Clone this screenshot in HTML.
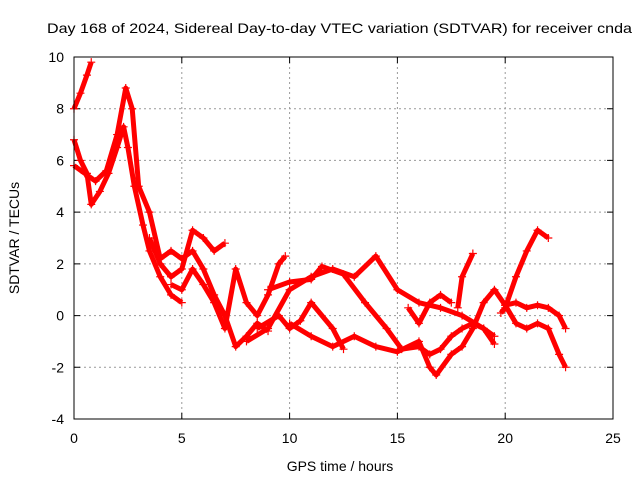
<!DOCTYPE html>
<html><head><meta charset="utf-8"><style>
body{margin:0;background:#fff}
svg{font-family:"Liberation Sans",sans-serif;font-size:14px}
</style></head><body>
<svg id="c" width="640" height="480">
<text x="47" y="33" textLength="585" lengthAdjust="spacingAndGlyphs">Day 168 of 2024, Sidereal Day-to-day VTEC variation (SDTVAR) for receiver cnda</text>
<text x="340" y="471" text-anchor="middle">GPS time / hours</text>
<text transform="translate(19,238) rotate(-90)" text-anchor="middle">SDTVAR / TECUs</text>
<g id="grid"></g><g id="marks"></g>
<rect x="74" y="57" width="539" height="362" fill="none" stroke="#000"/>
</svg>
<script>
const xTicks=[0,5,10,15,20,25];
const yTicks=[-4,-2,0,2,4,6,8,10];
const s1=[[0,8],[0.3,8.6],[0.6,9.3],[0.8,9.8]];
const s2=[[0,6.8],[0.3,6],[0.6,5.5],[0.8,4.3],[1.2,4.8],[1.6,5.5],[2,6.5],[2.3,7.3],[2.5,6.5],[2.8,5],[3.2,3.5],[3.5,2.5],[4,1.5],[4.5,0.8],[5,0.5]];
const s3=[[0,5.8],[0.5,5.5],[1,5.2],[1.5,5.6],[2,7],[2.4,8.8],[2.7,8],[3,5],[3.5,4],[4,2.2],[4.5,2.5],[5,2.2],[5.5,2.5],[6,1.8],[6.5,0.8],[7,0],[7.5,-1.2],[8,-0.8],[8.5,-0.3],[9,-0.6]];
const s4=[[3.5,3],[4,2],[4.5,1.5],[5,1.8],[5.5,3.3],[6,3],[6.5,2.5],[7,2.8]];
const s5=[[4.5,1.2],[5,1],[5.5,1.8],[6,1.2],[6.5,0.5],[7,-0.5],[7.5,1.8],[8,0.5],[8.5,0],[9,0.8],[9.5,2],[9.8,2.3]];
const s6=[[8,-1],[9,-0.5],[10,1],[11,1.5],[12,1.8],[13,1.5],[14,2.3],[15,1],[16,0.5],[17,0.3],[18,0],[19,-0.5],[19.5,-0.8]];
const s7=[[9,1],[10,1.3],[11,1.4],[11.5,1.9],[12.5,1.6],[13.5,0.5],[14.5,-0.5],[15.2,-1.3],[16,-1.2],[16.5,-1.5],[17,-1.3],[17.5,-0.8],[18,-0.5],[18.5,-0.3],[19,-0.5],[19.5,-1.1]];
const s8=[[10,-0.3],[11,-0.8],[12,-1.2],[13,-0.8],[14,-1.2],[15,-1.4],[16,-1],[16.5,-2],[16.8,-2.3],[17.5,-1.5],[18,-1.2],[18.5,-0.5],[19,0.5],[19.5,1],[20,0.4],[20.5,0.5],[21,0.3],[21.5,0.4],[22,0.3],[22.5,0],[22.8,-0.5]];
const s9=[[8.5,-0.5],[9.5,0],[10,-0.5],[10.5,-0.2],[11,0.5],[12,-0.5],[12.5,-1.3]];
const s10=[[15.5,0.3],[16,-0.3],[16.5,0.5],[17,0.8],[17.5,0.5]];
const s11=[[17.8,0.3],[18,1.5],[18.5,2.4]];
const s12=[[19.8,0.1],[20,0.3],[20.5,1.5],[21,2.5],[21.5,3.3],[22,3]];
const s13=[[20,0.4],[20.5,-0.3],[21,-0.5],[21.5,-0.3],[22,-0.5],[22.5,-1.5],[22.8,-2]];
const series=[s1,s2,s3,s4,s5,s6,s7,s8,s9,s10,s11,s12,s13];
const X=v=>74+v*539/25, Y=v=>419-(v+4)*362/14;
const NS='http://www.w3.org/2000/svg';
const svg=document.getElementById('c'),grid=document.getElementById('grid'),marks=document.getElementById('marks');
function mk(t,a,p){const e=document.createElementNS(NS,t);for(const k in a)e.setAttribute(k,a[k]);p.appendChild(e);return e;}
xTicks.forEach(t=>{
  const l=mk('line',{x1:X(t),x2:X(t),y1:57,y2:419,stroke:'#999','stroke-dasharray':'2,3'},grid);
  
  
  const tk=mk('path',{d:`M${X(t)},419v-6M${X(t)},57v6`,stroke:'#000'},grid);
  
  
  const tx=mk('text',{x:X(t),y:443,'text-anchor':'middle'},svg);tx.textContent=t;
  
  
});
yTicks.forEach(t=>{
  const l=mk('line',{x1:74,x2:613,y1:Y(t),y2:Y(t),stroke:'#999','stroke-dasharray':'2,3'},grid);
  
  
  const tk=mk('path',{d:`M74,${Y(t)}h6M613,${Y(t)}h-6`,stroke:'#000'},grid);
  
  
  const tx=mk('text',{x:64,y:Y(t)+5,'text-anchor':'end'},svg);tx.textContent=t;
  
  
});
series.forEach((s,i)=>{
  const pl=mk('polyline',{points:s.map(p=>X(p[0])+','+Y(p[1])).join(' '),fill:'none',stroke:'#f00','stroke-width':5,'stroke-linejoin':'round'},marks);
  
  
  s.forEach(p=>{
    const x=X(p[0]),y=Y(p[1]);
    const m=mk('path',{d:`M${x-4},${y}H${x+4}M${x},${y-4}V${y+4}`,stroke:'#f00','stroke-width':1.2},marks);
    
    
  });
});
</script>
</body></html>
